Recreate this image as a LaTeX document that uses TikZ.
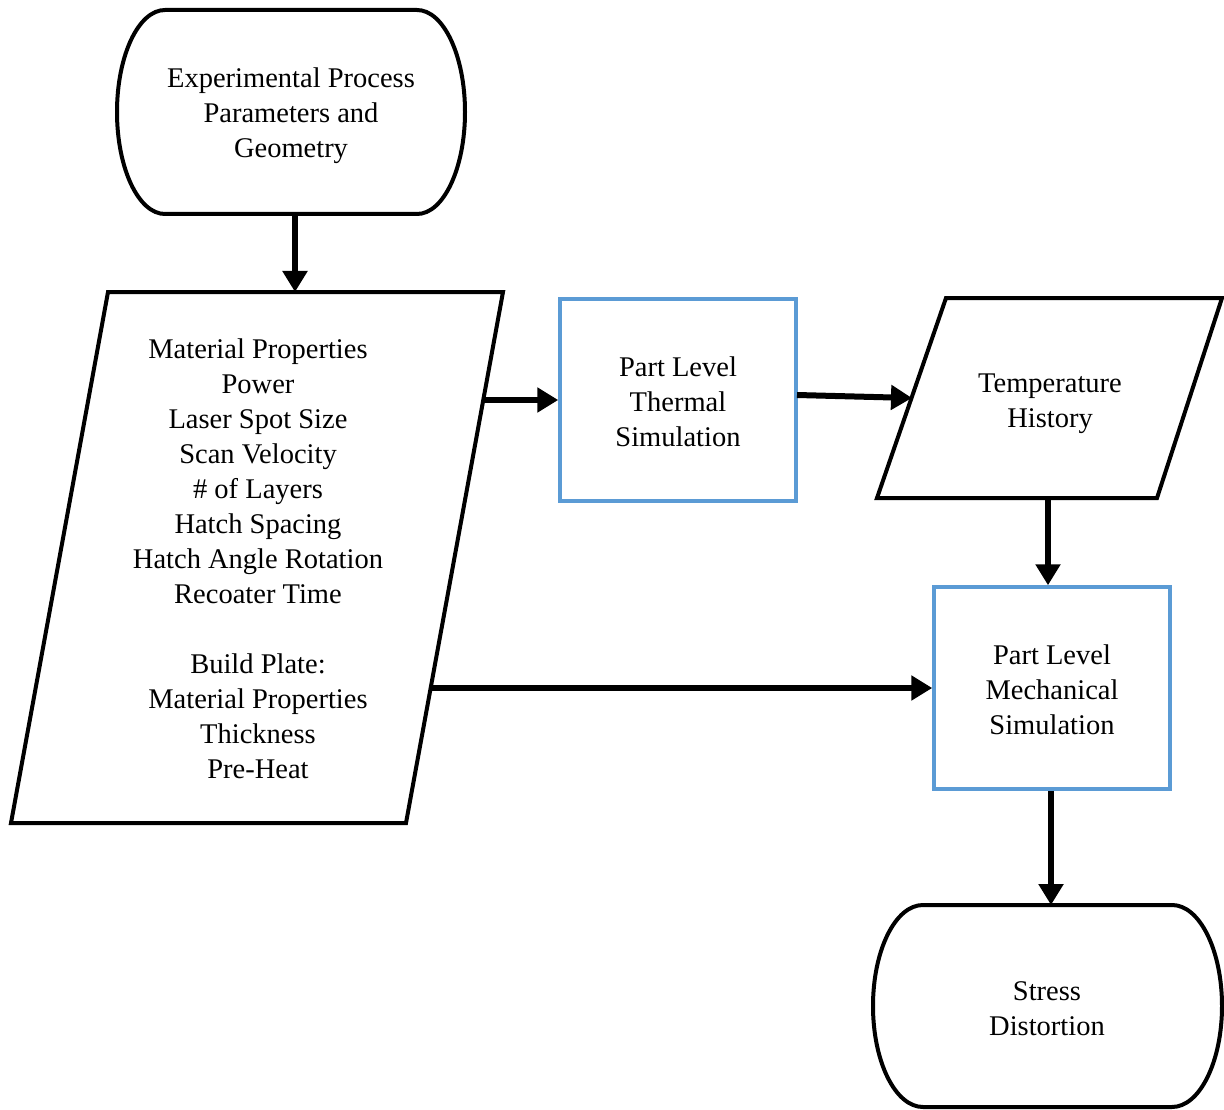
\documentclass[tikz,border=0pt]{standalone}
\usepackage{fontspec}
\setmainfont{Liberation Serif}
\usetikzlibrary{arrows.meta,calc}
\definecolor{boxblue}{HTML}{5B9BD5}
\begin{document}
\begin{tikzpicture}[x=1pt,y=-1pt,
  label text/.style={align=center,font=\fontsize{28.5}{35}\selectfont,inner sep=0pt},
  outline/.style={draw=black,line width=4pt,line join=miter},
  simbox/.style={draw=boxblue,line width=3.5pt,minimum width=236pt,minimum height=202pt},
  flow/.style={line width=6pt,-{Triangle[length=21pt,width=24pt]}}]
\useasboundingbox (0,0) rectangle (1224,1110);

% start terminator
\draw[outline] (165,10) -- (417,10)
  arc[start angle=-90,end angle=90,x radius=48,y radius=102] -- (165,214)
  arc[start angle=90,end angle=270,x radius=48,y radius=102] -- cycle;
\node[label text] (start) at (291,116) {Experimental Process\\Parameters and\\Geometry};
\coordinate (startbot) at (295,214);

% input parameters (parallelogram)
\draw[outline] (108,292) -- (503,292) -- (406,823) -- (11,823) -- cycle;
\node[label text] (params) at (258,559) {Material Properties\\Power\\Laser Spot Size\\Scan Velocity\\\# of Layers\\Hatch Spacing\\Hatch Angle Rotation\\Recoater Time\\[35pt]Build Plate:\\Material Properties\\Thickness\\Pre-Heat};
\coordinate (paramtop) at (295,292);
\coordinate (paramthermal) at (483,400);
\coordinate (parammech) at (430,688);

% simulations
\node[simbox] (thermal) at (678,400) {};
\node[label text] (thermaltext) at (678,402) {Part Level\\Thermal\\Simulation};
\node[simbox] (mech) at (1052,688) {};
\node[label text] (mechtext) at (1052,690) {Part Level\\Mechanical\\Simulation};

% temperature history (parallelogram)
\draw[outline] (946,298) -- (1222,298) -- (1157,498) -- (877,498) -- cycle;
\node[label text] (temp) at (1050,404) {Temperature\\History};
\coordinate (thermalout) at (797,395);
\coordinate (templeft) at (912,398);
\coordinate (tempbot) at (1048,498);

% end terminator
\draw[outline] (923,905) -- (1172,905)
  arc[start angle=-90,end angle=90,x radius=50,y radius=101] -- (923,1107)
  arc[start angle=90,end angle=270,x radius=50,y radius=101] -- cycle;
\node[label text] (stress) at (1047,1009) {Stress\\Distortion};
\coordinate (stresstop) at (1051,905);

% connectors
\draw[flow] (startbot) -- (paramtop);
\draw[flow] (paramthermal) -- (thermal.west |- paramthermal);
\draw[flow] (thermalout) -- (templeft);
\draw[flow] (tempbot) -- (tempbot |- mech.north);
\draw[flow] (parammech) -- (mech.west);
\draw[flow] (stresstop |- mech.south) -- (stresstop);
\end{tikzpicture}
\end{document}
